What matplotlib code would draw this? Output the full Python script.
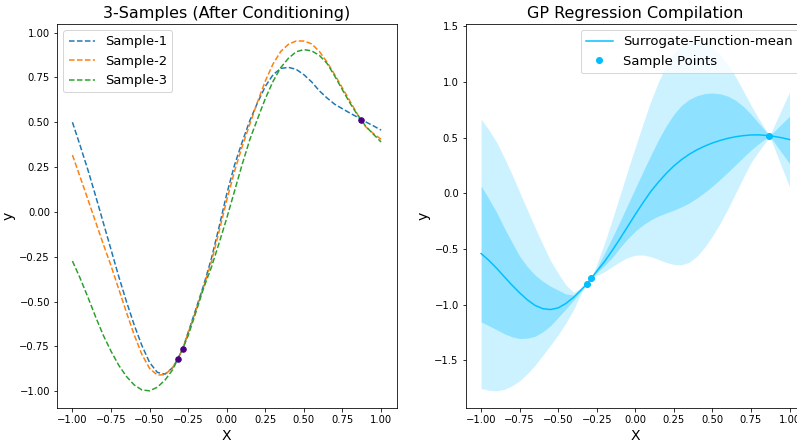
import matplotlib
matplotlib.use("Agg")
import matplotlib.pyplot as plt

gx = [-1.0, -0.95, -0.9, -0.85, -0.8, -0.75, -0.7, -0.65, -0.6, -0.55, -0.5, -0.45, -0.4,
      -0.35, -0.316, -0.286, -0.25, -0.2, -0.15, -0.1, -0.05, 0.0, 0.05, 0.1, 0.15, 0.2,
      0.25, 0.3, 0.35, 0.4, 0.45, 0.5, 0.55, 0.6, 0.65, 0.7, 0.75, 0.8, 0.85, 0.87, 0.9,
      0.95, 1.0]

# ---- left panel: three posterior samples ----
sample1 = [0.50, 0.37, 0.235, 0.09, -0.06, -0.21, -0.36, -0.50, -0.63, -0.745, -0.84,
           -0.895, -0.905, -0.868, -0.818, -0.765, -0.672, -0.542, -0.41, -0.262, -0.085,
           0.10, 0.26, 0.39, 0.51, 0.61, 0.70, 0.765, 0.80, 0.806, 0.795, 0.765, 0.725,
           0.675, 0.635, 0.60, 0.575, 0.55, 0.527, 0.515, 0.502, 0.48, 0.456]
sample2 = [0.317, 0.195, 0.07, -0.055, -0.18, -0.30, -0.43, -0.56, -0.685, -0.795, -0.873,
           -0.91, -0.908, -0.868, -0.818, -0.765, -0.675, -0.55, -0.42, -0.28, -0.11,
           0.065, 0.225, 0.365, 0.49, 0.615, 0.73, 0.825, 0.895, 0.935, 0.953, 0.953,
           0.937, 0.895, 0.835, 0.765, 0.69, 0.615, 0.54, 0.515, 0.475, 0.437, 0.405]
sample3 = [-0.274, -0.37, -0.475, -0.585, -0.688, -0.777, -0.855, -0.918, -0.965, -0.993,
           -0.998, -0.978, -0.938, -0.88, -0.818, -0.765, -0.69, -0.56, -0.425, -0.31,
           -0.175, -0.035, 0.115, 0.265, 0.405, 0.52, 0.632, 0.728, 0.805, 0.857, 0.893,
           0.905, 0.898, 0.873, 0.828, 0.757, 0.68, 0.605, 0.537, 0.515, 0.478, 0.433, 0.39]

pts_x = [-0.316, -0.286, 0.868]
pts_y = [-0.818, -0.765, 0.515]

# ---- right panel: GP mean and the two confidence bands ----
gp_mean = [-0.542, -0.603, -0.673, -0.75, -0.825, -0.895, -0.958, -1.008, -1.037, -1.045,
           -1.03, -0.99, -0.935, -0.866, -0.817, -0.765, -0.70, -0.615, -0.515, -0.41,
           -0.30, -0.19, -0.085, 0.015, 0.10, 0.177, 0.245, 0.302, 0.35, 0.39, 0.423,
           0.451, 0.474, 0.493, 0.507, 0.517, 0.523, 0.524, 0.519, 0.515, 0.51, 0.498, 0.482]
band1_hi = [0.066, -0.05, -0.17, -0.31, -0.44, -0.565, -0.66, -0.735, -0.79, -0.835, -0.87,
            -0.905, -0.915, -0.858, -0.817, -0.765, -0.675, -0.54, -0.40, -0.255, -0.105,
            0.045, 0.195, 0.34, 0.48, 0.605, 0.71, 0.79, 0.843, 0.876, 0.895, 0.90, 0.893,
            0.872, 0.835, 0.78, 0.71, 0.63, 0.55, 0.515, 0.556, 0.623, 0.691]
band1_lo = [-1.156, -1.19, -1.225, -1.262, -1.29, -1.305, -1.302, -1.285, -1.245, -1.19,
            -1.115, -1.04, -0.96, -0.878, -0.817, -0.765, -0.715, -0.65, -0.578, -0.49,
            -0.41, -0.34, -0.285, -0.24, -0.205, -0.178, -0.152, -0.122, -0.087, -0.043,
            0.007, 0.063, 0.124, 0.188, 0.255, 0.322, 0.387, 0.445, 0.495, 0.515, 0.458,
            0.362, 0.266]
band2_hi = [0.665, 0.57, 0.46, 0.32, 0.17, 0.01, -0.15, -0.31, -0.46, -0.605, -0.72, -0.825,
            -0.89, -0.85, -0.817, -0.765, -0.64, -0.45, -0.24, -0.02, 0.20, 0.415, 0.625,
            0.825, 1.0, 1.145, 1.255, 1.325, 1.36, 1.367, 1.35, 1.31, 1.245, 1.155, 1.045,
            0.92, 0.79, 0.67, 0.56, 0.515, 0.606, 0.757, 0.909]
band2_lo = [-1.754, -1.77, -1.775, -1.762, -1.73, -1.685, -1.62, -1.545, -1.455, -1.365,
            -1.27, -1.165, -1.045, -0.895, -0.817, -0.765, -0.74, -0.705, -0.66, -0.615,
            -0.578, -0.557, -0.555, -0.57, -0.595, -0.622, -0.64, -0.643, -0.62, -0.565,
            -0.485, -0.385, -0.27, -0.14, 0.0, 0.14, 0.275, 0.375, 0.47, 0.515, 0.409,
            0.233, 0.057]

fig = plt.figure(figsize=(797 / 72, 442 / 72), dpi=72)
ax1 = fig.add_axes([0.0715, 0.0762, 0.426, 0.8706])
ax2 = fig.add_axes([0.5843, 0.0762, 0.4257, 0.8706])

ax1.plot(gx, sample1, '--', label='Sample-1')
ax1.plot(gx, sample2, '--', label='Sample-2')
ax1.plot(gx, sample3, '--', label='Sample-3')
ax1.plot(pts_x, pts_y, 'o', color='indigo', markersize=5.5)
ax1.set_title('3-Samples (After Conditioning)', fontsize=16)
ax1.set_xlabel('X', fontsize=14)
ax1.set_ylabel('y', fontsize=14)
ax1.legend(loc='upper left', fontsize=13)

ax2.fill_between(gx, band2_lo, band2_hi, color='deepskyblue', alpha=0.2, lw=0)
ax2.fill_between(gx, band1_lo, band1_hi, color='deepskyblue', alpha=0.3, lw=0)
ax2.plot(gx, gp_mean, color='deepskyblue', label='Surrogate-Function-mean')
ax2.plot(pts_x, pts_y, 'o', color='deepskyblue', markersize=6, label='Sample Points')
ax2.set_title('GP Regression Compilation', fontsize=16)
ax2.set_xlabel('X', fontsize=14)
ax2.set_ylabel('y', fontsize=14)
ax2.legend(loc='upper right', fontsize=13.3)

fig.savefig('out.png', dpi=72)
